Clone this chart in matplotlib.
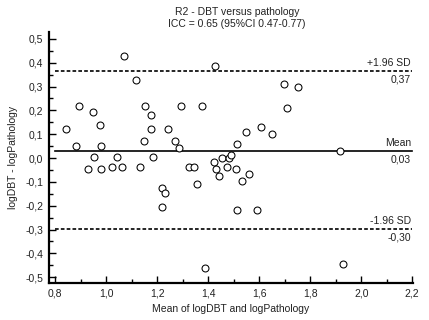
import matplotlib
matplotlib.use("Agg")
import matplotlib.pyplot as plt
from matplotlib.ticker import MultipleLocator, FuncFormatter

plt.rcParams['font.family'] = ['Liberation Sans', 'DejaVu Sans']

# Data
mean_vals = [1.071, 1.427, 1.119, 0.894, 0.948, 1.154, 1.294, 1.374, 1.174, 0.975,
             0.843, 1.174, 1.242, 1.548, 1.149, 1.269, 1.514, 0.880, 0.979, 1.284,
             0.954, 1.043, 1.184, 1.454, 1.482, 1.490, 1.422, 0.928, 0.979, 1.024,
             1.063, 1.133, 1.324, 1.345, 1.430, 1.473, 1.510, 1.443, 1.562, 1.533,
             1.358, 1.220, 1.230, 1.220, 1.514, 1.386, 1.593, 1.928, 1.698, 1.753,
             1.709, 1.608, 1.651, 1.918]
diff_vals = [0.427, 0.388, 0.329, 0.220, 0.192, 0.220, 0.220, 0.220, 0.179, 0.140,
             0.122, 0.122, 0.122, 0.110, 0.071, 0.071, 0.061, 0.052, 0.052, 0.042,
             0.003, 0.003, 0.003, 0.000, 0.000, 0.013, -0.018, -0.046, -0.046, -0.039,
             -0.039, -0.039, -0.039, -0.039, -0.046, -0.039, -0.046, -0.077, -0.067, -0.097,
             -0.107, -0.126, -0.147, -0.206, -0.216, -0.462, -0.216, -0.443, 0.309, 0.300,
             0.210, 0.130, 0.100, 0.031]
mean_diff = 0.03
upper_loa = 0.366
lower_loa = -0.298
mean_label = "0,03"
upper_label = "0,37"
lower_label = "-0,30"

fig = plt.figure(figsize=(4.29, 3.2), dpi=100)
ax = fig.add_axes([0.1142, 0.1166, 0.8485, 0.7834])

ax.plot(mean_vals, diff_vals, linestyle='none', marker='o', markersize=5.0,
        markerfacecolor='white', markeredgecolor='black', markeredgewidth=0.75, zorder=3)

x0, x1 = 0.8, 2.2
ax.plot([x0, x1], [mean_diff, mean_diff], color='black', lw=1.2, zorder=2)
ax.plot([x0, x1], [upper_loa, upper_loa], color='black', lw=1.2, ls=(0, (2.2, 1.3)), zorder=2)
ax.plot([x0, x1], [lower_loa, lower_loa], color='black', lw=1.2, ls=(0, (2.2, 1.3)), zorder=2)

tkw = dict(ha='right', fontsize=7.5, color='#222222')
ax.text(x1 - 0.005, upper_loa + 0.012, "+1.96 SD", va='bottom', **tkw)
ax.text(x1 - 0.005, upper_loa - 0.015, upper_label, va='top', **tkw)
ax.text(x1 - 0.005, mean_diff + 0.012, "Mean", va='bottom', **tkw)
ax.text(x1 - 0.005, mean_diff - 0.015, mean_label, va='top', **tkw)
ax.text(x1 - 0.005, lower_loa + 0.012, "-1.96 SD", va='bottom', **tkw)
ax.text(x1 - 0.005, lower_loa - 0.015, lower_label, va='top', **tkw)

ax.set_xlim(0.776, 2.203)
ax.set_ylim(-0.523, 0.529)

ax.xaxis.set_major_locator(MultipleLocator(0.2))
ax.xaxis.set_minor_locator(MultipleLocator(0.1))
ax.yaxis.set_major_locator(MultipleLocator(0.1))
ax.yaxis.set_minor_locator(MultipleLocator(0.05))
comma = FuncFormatter(lambda v, p: f"{v:.1f}".replace('.', ',').replace('-0,0', '0,0'))
ax.xaxis.set_major_formatter(comma)
ax.yaxis.set_major_formatter(comma)

ax.tick_params(which='both', direction='in', width=1.0, labelsize=7.5,
               labelcolor='#222222', pad=4)
ax.tick_params(which='major', length=5)
ax.tick_params(which='minor', length=3)

for s in ['top', 'right']:
    ax.spines[s].set_visible(False)
for s in ['left', 'bottom']:
    ax.spines[s].set_linewidth(1.6)

ax.set_xlabel("Mean of logDBT and logPathology", fontsize=7.5, color='#222222', labelpad=4)
ax.set_ylabel("logDBT - logPathology", fontsize=7.5, color='#222222', labelpad=5)

fig.text(237 / 429, 1 - 12 / 320, "R2 - DBT versus pathology", ha='center', va='center',
         fontsize=7.5, color='#222222')
fig.text(237 / 429, 1 - 24 / 320, "ICC = 0.65 (95%CI 0.47-0.77)", ha='center', va='center',
         fontsize=7.5, color='#222222')

fig.savefig("out.png", dpi=100)
